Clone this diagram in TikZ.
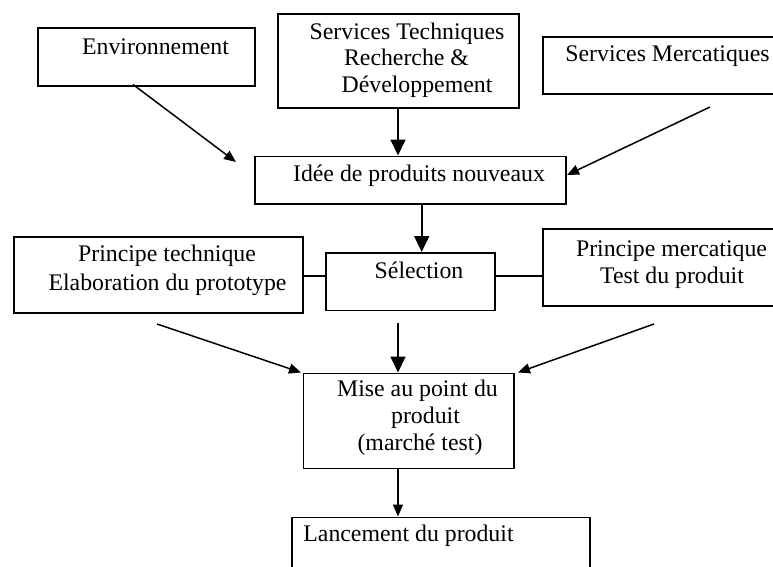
\documentclass[tikz,border=0pt]{standalone}
\usepackage{fontspec}
\setmainfont{Liberation Serif}
\usetikzlibrary{arrows.meta}
\begin{document}
\begin{tikzpicture}[x=1pt,y=-1pt,
  box/.style={draw=black, line width=1.8pt, inner sep=0pt, anchor=north west},
  lbl/.style={anchor=base, inner sep=0pt, font=\fontsize{23.8}{28}\selectfont},
  arr/.style={line width=1.8pt, -{Triangle[length=16pt,width=15pt]}},
  arrs/.style={line width=1.5pt, -{Triangle[length=12pt,width=10pt]}},
  link/.style={line width=1.8pt}]
\useasboundingbox (0,0) rectangle (773,567);
\fill[white] (0,0) rectangle (773,567);

% boxes (north-west corner, size)
\node[box, minimum width=217pt, minimum height=58pt] (env) at (37,27.5) {};
\node[box, minimum width=241pt, minimum height=94pt] (st) at (277,13) {};
\node[box, minimum width=240pt, minimum height=57pt] (merc) at (542,36) {};
\node[box, minimum width=311pt, minimum height=47.5pt] (idee) at (254,155.5) {};
\node[box, minimum width=289pt, minimum height=76pt] (pt) at (13,236) {};
\node[box, minimum width=169pt, minimum height=57.5pt] (sel) at (325,252) {};
\node[box, minimum width=240pt, minimum height=77pt] (pm) at (542,228) {};
\node[box, minimum width=210.5pt, minimum height=95pt] (mise) at (302.5,372.5) {};
\node[box, minimum width=298pt, minimum height=70pt] (lanc) at (291,516.5) {};

% texts
\node[lbl] (tenv) at (155.5,55) {Environnement};
\node[lbl] (tst1) at (407,40) {Services Techniques};
\node[lbl] (tst2) at (406.5,66) {Recherche \&};
\node[lbl] (tst3) at (417,92.5) {Développement};
\node[lbl] (tmerc) at (667.5,62) {Services Mercatiques};
\node[lbl] (tidee) at (419,181.5) {Idée de produits nouveaux};
\node[lbl] (tpt1) at (167,261.5) {Principe technique};
\node[lbl] (tpt2) at (167.5,290.5) {Elaboration du prototype};
\node[lbl] (tsel) at (419,278) {Sélection};
\node[lbl] (tpm1) at (671.5,256) {Principe mercatique};
\node[lbl] (tpm2) at (672,283) {Test du produit};
\node[lbl] (tmi1) at (417.5,396.5) {Mise au point du};
\node[lbl] (tmi2) at (425.5,423.5) {produit};
\node[lbl] (tmi3) at (420,450.5) {(marché test)};
\node[lbl] (tlanc) at (408.5,541.5) {Lancement du produit};

% free ends of the oblique arrows and the column positions
\coordinate (envA) at (133,84.5);
\coordinate (envB) at (236,162);
\coordinate (mercA) at (710,107);
\coordinate (mercB) at (567,175);
\coordinate (ptA) at (157,324);
\coordinate (ptB) at (301,372.5);
\coordinate (pmA) at (654,324);
\coordinate (pmB) at (518,372.5);
\coordinate (colL) at (398,0);
\coordinate (colR) at (421.7,0);
\coordinate (selTop) at (0,323);
\coordinate (hl) at (0,276);

% connectors
\draw[arrs] (envA) -- (envB);
\draw[arrs] (mercA) -- (mercB);
\draw[arr] (st.south -| colL) -- (idee.north -| colL);
\draw[arr] (idee.south -| colR) -- (sel.north -| colR);
\draw[link] (pt.east |- hl) -- (sel.west |- hl);
\draw[link] (sel.east |- hl) -- (pm.west |- hl);
\draw[arrs] (ptA) -- (ptB);
\draw[arrs] (pmA) -- (pmB);
\draw[arr] (selTop -| colL) -- (mise.north -| colL);
\draw[arrs] (mise.south -| colL) -- (lanc.north -| colL);
\end{tikzpicture}
\end{document}
